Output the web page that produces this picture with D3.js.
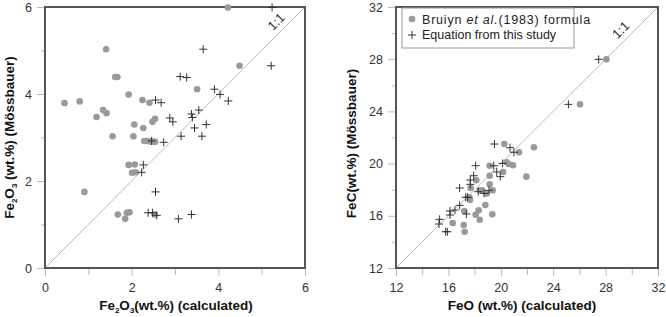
<!DOCTYPE html>
<html>
<head>
<meta charset="utf-8">
<script src="https://cdn.jsdelivr.net/npm/d3@7"></script>
<style>
  body { margin: 0; background: #fff; }
  svg { font-family: "Liberation Sans", Arial, sans-serif; }
</style>
</head>
<body>
<svg width="666" height="317"></svg>
<script>
// left panel: Fe2O3
const leftDomain = [0, 6];
const leftMajorTicks = [0, 2, 4, 6];
const leftMinorTicks = [1, 3, 5];
const bruiynFe2O3Calc = [0.45,0.80,1.41,1.62,1.67,1.19,1.34,1.42,1.93,2.25,2.41,2.06,2.27,2.48,2.54,1.56,2.04,2.29,2.35,2.42,2.48,2.54,3.51,4.49,4.22,1.93,2.07,2.01,2.09,0.91,1.68,1.89,1.95,1.85,2.53];
const bruiynFe2O3Moss = [3.79,3.83,5.03,4.39,4.39,3.47,3.63,3.56,3.99,3.86,3.80,3.30,3.22,3.36,3.43,3.03,3.03,2.92,2.92,2.91,2.91,2.90,4.11,4.65,5.99,2.37,2.38,2.19,2.20,1.75,1.23,1.27,1.28,1.13,1.23];
const studyFe2O3Calc = [3.65,3.12,3.27,3.91,4.04,4.23,5.22,5.24,2.55,2.68,2.88,2.95,3.38,3.40,3.55,3.45,3.72,3.14,3.62,2.46,2.74,2.27,2.23,2.55,2.38,2.48,2.58,3.08,3.38];
const studyFe2O3Moss = [5.03,4.40,4.38,4.11,3.99,3.84,4.65,5.99,3.86,3.80,3.45,3.36,3.54,3.46,3.63,3.22,3.30,3.03,3.03,2.92,2.89,2.37,2.20,1.75,1.27,1.27,1.21,1.13,1.23];

// right panel: FeO
const rightDomain = [12, 32];
const rightMajorTicks = [12, 16, 20, 24, 28, 32];
const rightMinorTicks = [14, 18, 22, 26, 30];
const bruiynFeOCalc = [28.06,26.05,20.27,21.39,22.53,19.15,20.45,20.60,20.93,20.17,21.95,19.15,18.13,17.70,19.15,18.39,18.56,19.38,18.92,17.60,17.65,17.21,18.31,18.82,18.08,18.39,19.35,16.33,17.17,17.24];
const bruiynFeOMoss = [27.99,24.54,21.50,20.87,21.25,19.84,20.10,19.97,19.87,19.36,19.00,19.07,18.72,18.13,18.41,17.95,17.95,17.95,17.70,17.42,17.21,16.37,16.42,16.83,16.08,15.70,16.11,15.45,15.30,14.78];
const studyFeOCalc = [27.47,25.16,19.51,20.70,21.00,18.08,19.46,20.14,19.69,19.96,17.93,17.67,17.67,16.86,18.28,19.10,18.72,17.32,17.47,17.37,16.86,16.50,16.12,16.12,15.33,15.28,15.79,15.92];
const studyFeOMoss = [27.99,24.54,21.50,21.22,20.87,19.84,19.84,20.02,19.36,19.00,19.07,18.74,18.41,18.13,17.85,17.95,17.72,17.42,17.42,16.14,16.80,16.44,16.37,16.06,15.73,15.37,14.78,14.78];

const legendLabels = ["Bruiyn ", "et al.", "(1983) formula", "Equation from this study"];

const svg = d3.select("svg");
const circleColor = "#9a9a9a";
const crossColor = "#333";

function drawPanel(p) {
  const x = d3.scaleLinear().domain(p.domain).range([p.left, p.right]);
  const y = d3.scaleLinear().domain(p.domain).range([p.bottom, p.top]);
  const g = svg.append("g");

  // 1:1 line
  g.append("line")
    .attr("x1", x(p.domain[0])).attr("y1", y(p.domain[0]))
    .attr("x2", x(p.domain[1])).attr("y2", y(p.domain[1]))
    .attr("stroke", "#aaa").attr("stroke-width", 0.8);

  // ticks
  g.append("g").attr("transform", `translate(0,${p.bottom})`)
    .call(d3.axisBottom(x).tickValues(p.major).tickSize(8).tickPadding(7).tickFormat(d3.format("d")));
  g.append("g").attr("transform", `translate(0,${p.bottom})`)
    .call(d3.axisBottom(x).tickValues(p.minor).tickSize(7).tickFormat(""));
  g.append("g").attr("transform", `translate(${p.left},0)`)
    .call(d3.axisLeft(y).tickValues(p.major).tickSize(8).tickPadding(p.yPad).tickFormat(d3.format("d")));
  g.append("g").attr("transform", `translate(${p.left},0)`)
    .call(d3.axisLeft(y).tickValues(p.minor).tickSize(4).tickFormat(""));
  g.selectAll(".domain").remove();
  g.selectAll(".tick line").attr("stroke", "#bbb");
  g.selectAll(".tick text").attr("fill", "#333").style("font-size", "12.5px")
    .style("font-family", "Liberation Sans, Arial, sans-serif");

  // frame
  g.append("rect")
    .attr("x", p.left).attr("y", p.top)
    .attr("width", p.right - p.left).attr("height", p.bottom - p.top)
    .attr("fill", "none").attr("stroke", "#555").attr("stroke-width", 2);

  // 1:1 label
  const lx = x(p.labelAt), ly = y(p.labelAt);
  g.append("text")
    .attr("transform", `translate(${lx - 4},${ly - 4}) rotate(-45)`)
    .attr("text-anchor", "middle")
    .attr("fill", "#333").style("font-size", "13px")
    .text("1:1");

  // Bruiyn circles
  g.selectAll("circle.b")
    .data(d3.zip(p.bx, p.by))
    .join("circle")
    .attr("cx", d => x(d[0])).attr("cy", d => y(d[1]))
    .attr("r", 3.3).attr("fill", circleColor);

  // this-study crosses
  g.selectAll("path.c")
    .data(d3.zip(p.sx, p.sy))
    .join("path")
    .attr("d", d => `M${x(d[0]) - 4},${y(d[1])}h8M${x(d[0])},${y(d[1]) - 4}v8`)
    .attr("stroke", crossColor).attr("stroke-width", 1).attr("fill", "none");

  // axis titles
  const xt = g.append("text")
    .attr("x", (p.left + p.right) / 2 + p.xTitleShift).attr("y", 310)
    .attr("text-anchor", "middle")
    .style("font-size", "13.5px").style("font-weight", "bold").attr("fill", "#111");
  p.xTitle(xt);

  const yt = g.append("text")
    .attr("transform", `translate(${p.left - p.yTitleOffset},${(p.top + p.bottom) / 2 + p.yTitleShift}) rotate(-90)`)
    .attr("text-anchor", "middle")
    .style("font-size", "13.5px").style("font-weight", "bold").attr("fill", "#111");
  p.yTitle(yt);

  return { x, y, g };
}

function fe2o3(t, tail) {
  t.append("tspan").text("Fe");
  t.append("tspan").text("2").attr("dy", 3).style("font-size", "8px");
  t.append("tspan").text("O").attr("dy", -3);
  t.append("tspan").text("3").attr("dy", 3).style("font-size", "8px");
  t.append("tspan").text(tail).attr("dy", -3);
}

drawPanel({
  domain: leftDomain, major: leftMajorTicks, minor: leftMinorTicks,
  left: 45, right: 305, top: 7, bottom: 268,
  labelAt: 5.5, yPad: 5,
  bx: bruiynFe2O3Calc, by: bruiynFe2O3Moss, sx: studyFe2O3Calc, sy: studyFe2O3Moss,
  xTitleShift: 1, yTitleOffset: 31, yTitleShift: 0,
  xTitle: t => fe2o3(t, "(wt.%) (calculated)"),
  yTitle: t => fe2o3(t, " (wt.%) (Mössbauer)")
});

drawPanel({
  domain: rightDomain, major: rightMajorTicks, minor: rightMinorTicks,
  left: 396, right: 658, top: 7, bottom: 268,
  labelAt: 29.7, yPad: 5,
  bx: bruiynFeOCalc, by: bruiynFeOMoss, sx: studyFeOCalc, sy: studyFeOMoss,
  xTitleShift: -5, yTitleOffset: 40, yTitleShift: 6,
  xTitle: t => t.text("FeO (wt.%) (calculated)"),
  yTitle: t => t.text("FeC(wt.%) (Mössbauer)")
});

// legend
const leg = svg.append("g");
leg.append("rect").attr("x", 402).attr("y", 8).attr("width", 172).attr("height", 40)
  .attr("fill", "#fff").attr("stroke", "#999").attr("stroke-width", 1);
leg.append("circle").attr("cx", 412).attr("cy", 19).attr("r", 3.3).attr("fill", circleColor);
leg.append("path").attr("d", "M408,35h8M412,31v8").attr("stroke", crossColor).attr("fill", "none");
const lt = leg.append("text").attr("x", 422).attr("y", 23.5).style("font-size", "12.5px")
  .style("letter-spacing", "0.8px").attr("fill", "#222");
lt.append("tspan").text(legendLabels[0]);
lt.append("tspan").text(legendLabels[1]).style("font-style", "italic");
lt.append("tspan").text(legendLabels[2]);
leg.append("text").attr("x", 422).attr("y", 39).style("font-size", "12.5px").attr("fill", "#222")
  .text(legendLabels[3]);
</script>
</body>
</html>
